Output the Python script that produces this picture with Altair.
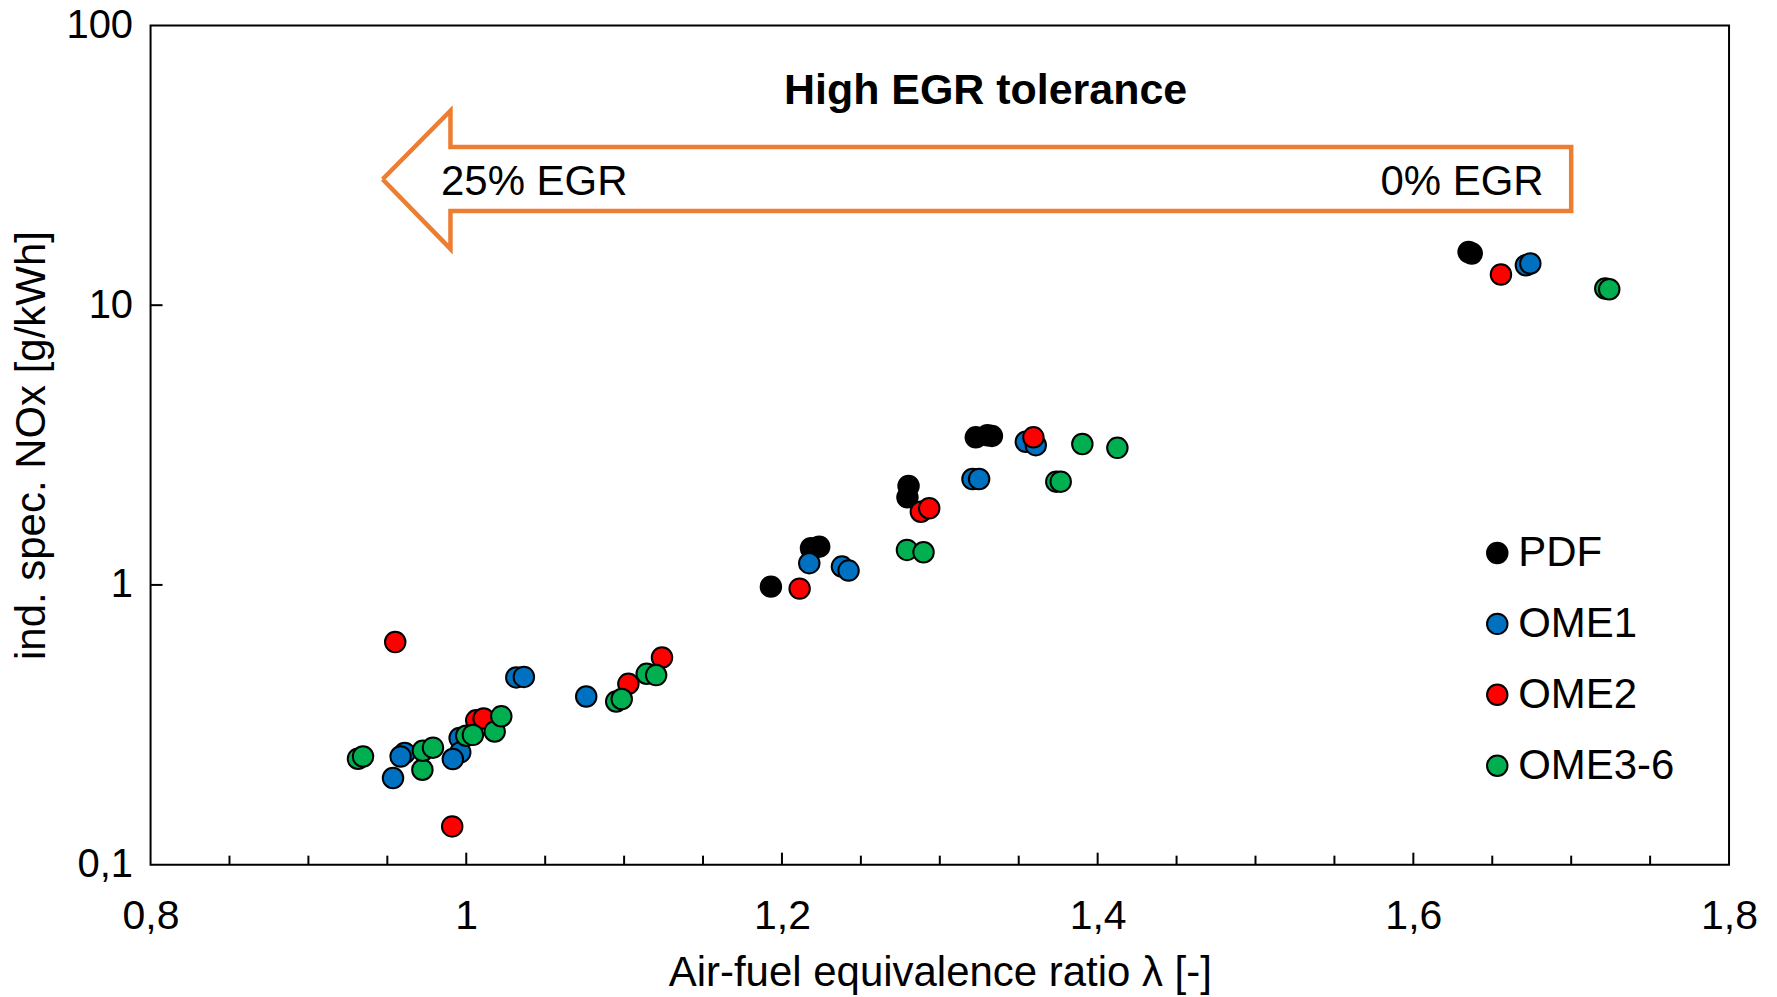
import altair as alt
import pandas as pd

# ---------------- data ----------------
series_names = ["PDF", "OME1", "OME2", "OME3-6"]
series_colors = ["#000000", "#0070C0", "#FF0000", "#00B050"]

pdf_lambda = [1.193, 1.2184, 1.2236, 1.2802, 1.2795, 1.3228, 1.3302, 1.333, 1.635, 1.637]
pdf_nox = [0.986, 1.352, 1.37, 2.258, 2.056, 3.37, 3.43, 3.41, 15.5, 15.3]

ome1_lambda = [1.0317, 1.0365, 1.076, 0.9958, 0.9962, 0.9915, 0.961, 0.9584, 0.9536,
               1.2173, 1.238, 1.2422, 1.3207, 1.3249, 1.3545, 1.3608, 1.6713, 1.6741]
ome1_nox = [0.467, 0.469, 0.399, 0.2835, 0.252, 0.2385, 0.2506, 0.2436, 0.204,
            1.196, 1.163, 1.125, 2.39, 2.39, 3.25, 3.16, 13.9, 14.09]

ome2_lambda = [0.955, 0.9911, 1.0063, 1.011, 1.1027, 1.124, 1.2112, 1.288, 1.2933, 1.3593, 1.6555]
ome2_nox = [0.625, 0.137, 0.328, 0.333, 0.443, 0.55, 0.970, 1.827, 1.879, 3.37, 12.87]

ome36_lambda = [0.9314, 0.9346, 0.9722, 0.9725, 0.9789, 1.0, 1.0042, 1.018, 1.0222, 1.095,
                1.0985, 1.1143, 1.1203, 1.2792, 1.2897, 1.3738, 1.3766, 1.3903, 1.4125,
                1.7216, 1.7241]
ome36_nox = [0.239, 0.2436, 0.2185, 0.2555, 0.262, 0.289, 0.291, 0.299, 0.339, 0.383,
             0.391, 0.481, 0.476, 1.334, 1.308, 2.34, 2.34, 3.19, 3.09, 11.47, 11.40]

x_label_values = [0.8, 1.0, 1.2, 1.4, 1.6, 1.8]
x_minor_ticks = [0.85, 0.9, 0.95, 1.05, 1.1, 1.15, 1.25, 1.3, 1.35, 1.45, 1.5, 1.55,
                 1.65, 1.7, 1.75]
x_major_ticks = [1.0, 1.2, 1.4, 1.6]
y_label_values = [0.1, 1, 10, 100]
y_ticks = [1, 10]

# annotation arrow outline (lambda, NOx)
arrow_lambda = [0.947, 0.990, 0.990, 1.700, 1.700, 0.990, 0.990, 0.947]
arrow_nox = [28.2, 49.6, 36.8, 36.8, 21.7, 21.7, 15.9, 28.2]

title_text = ["High EGR tolerance"]
title_pos = [1.329, 52.2]
left_text = ["25% EGR"]
left_pos = [0.984, 24.7]
right_text = ["0% EGR"]
right_pos = [1.6825, 24.7]

# ---------------- build tables ----------------
rows = []
i = 0
for name, xs, ys in [("PDF", pdf_lambda, pdf_nox), ("OME1", ome1_lambda, ome1_nox),
                     ("OME2", ome2_lambda, ome2_nox), ("OME3-6", ome36_lambda, ome36_nox)]:
    for x, y in zip(xs, ys):
        rows.append({"lam": x, "nox": y, "series": name, "idx": i})
        i += 1
df = pd.DataFrame(rows)

arrow_df = pd.DataFrame({"lam": arrow_lambda, "nox": arrow_nox,
                         "o": list(range(len(arrow_lambda)))})

FONT = "Liberation Sans"
W, H = 1580, 840
xscale = alt.Scale(domain=[0.8, 1.8], nice=False, zero=False)
yscale = alt.Scale(type="log", domain=[0.1, 100], nice=False)

xaxis = alt.Axis(values=x_label_values, title="Air-fuel equivalence ratio λ [-]",
                 labelExpr="replace(format(datum.value, '~g'), '.', ',')",
                 ticks=False, domain=False, grid=False, labelFlush=False,
                 labelOverlap=False, labelFont=FONT, titleFont=FONT,
                 labelFontSize=41, titleFontSize=42, titleFontWeight="normal",
                 labelColor="black", titleColor="black", labelPadding=32, titlePadding=16)
yaxis = alt.Axis(values=y_label_values, title="ind. spec. NOx [g/kWh]",
                 labelExpr="replace(format(datum.value, '~g'), '.', ',')",
                 ticks=False, domain=False, grid=False, labelFlush=False,
                 labelOverlap=False, labelFont=FONT, titleFont=FONT,
                 labelFontSize=40, titleFontSize=42, titleFontWeight="normal",
                 labelColor="black", titleColor="black", labelPadding=18, titlePadding=12)


def X(field):
    return alt.X(field, scale=xscale, axis=xaxis)


def Y(field):
    return alt.Y(field, scale=yscale, axis=yaxis)


arrow = alt.Chart(arrow_df).mark_line(color="#ED7D31", strokeWidth=4.5, strokeJoin="miter").encode(
    x=X("lam:Q"), y=Y("nox:Q"), order="o:Q",
)

xminor = alt.Chart(pd.DataFrame({"v": x_minor_ticks})).mark_rule(color="black", strokeWidth=2).encode(
    x=X("v:Q"), y=alt.value(H), y2=alt.value(H - 9))
xmajor = alt.Chart(pd.DataFrame({"v": x_major_ticks})).mark_rule(color="black", strokeWidth=2).encode(
    x=X("v:Q"), y=alt.value(H), y2=alt.value(H - 12))
yt = alt.Chart(pd.DataFrame({"v": y_ticks})).mark_rule(color="black", strokeWidth=2).encode(
    y=Y("v:Q"), x=alt.value(0), x2=alt.value(12))

points = alt.Chart(df).mark_circle(size=420, opacity=1, stroke="black", strokeWidth=2).encode(
    x=X("lam:Q"),
    y=Y("nox:Q"),
    color=alt.Color("series:N", scale=alt.Scale(domain=series_names, range=series_colors),
                    legend=alt.Legend(title=None, orient="none", legendX=1327, legendY=507,
                                      padding=0, symbolType="circle", symbolSize=420,
                                      symbolStrokeColor="black", symbolStrokeWidth=2,
                                      symbolOpacity=1, labelFont=FONT, labelFontSize=42,
                                      labelColor="black", labelOffset=0, rowPadding=29,
                                      labelLimit=400)),
    order=alt.Order("idx:Q"),
)


def label(text, pos, size, weight, align):
    return alt.Chart(pd.DataFrame({"lam": [pos[0]], "nox": [pos[1]], "t": text})).mark_text(
        font=FONT, fontSize=size, fontWeight=weight, color="black", align=align,
        baseline="alphabetic").encode(x=X("lam:Q"), y=Y("nox:Q"), text="t:N")


title_mark = label(title_text, title_pos, 43, "bold", "center")
left_mark = label(left_text, left_pos, 42, "normal", "left")
right_mark = label(right_text, right_pos, 42, "normal", "right")

chart = alt.layer(arrow, xminor, xmajor, yt, points, title_mark, left_mark, right_mark).properties(
    width=W, height=H,
    autosize=alt.AutoSizeParams(type="none"),
    padding={"left": 142.7, "top": 17, "right": 40, "bottom": 130},
).configure_view(stroke="black", strokeWidth=2)

chart.save("out.html", embed_options={"renderer": "svg", "actions": False})
